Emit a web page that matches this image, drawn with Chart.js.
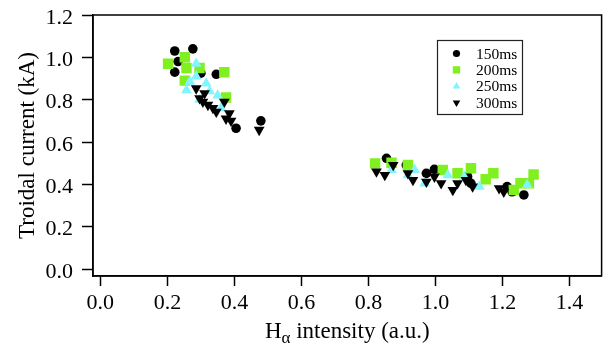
<!DOCTYPE html>
<html><head><meta charset="utf-8">
<script src="https://cdn.jsdelivr.net/npm/chart.js@4/dist/chart.umd.min.js"></script>
<style>html,body{margin:0;padding:0;background:#fff}#wrap{width:609px;height:351px;position:relative}</style>
</head><body><div id="wrap"><canvas id="c" width="609" height="351"></canvas></div>
<script>
// ---- data ----
const seriesNames = ['150ms', '200ms', '250ms', '300ms'];
const x150 = [0.222, 0.276, 0.232, 0.222, 0.346, 0.300, 0.479, 0.405,
  0.854, 0.913, 0.973, 0.997, 1.096, 1.106, 1.214, 1.229, 1.264];
const y150 = [1.03, 1.04, 0.98, 0.93, 0.92, 0.925, 0.70, 0.665,
  0.523, 0.491, 0.452, 0.471, 0.436, 0.405, 0.389, 0.365, 0.350];
const x200 = [0.202, 0.252, 0.257, 0.252, 0.296, 0.370, 0.375,
  0.820, 0.869, 0.918, 1.022, 1.066, 1.106, 1.150, 1.173, 1.234, 1.254, 1.279, 1.293];
const y200 = [0.97, 1.00, 0.95, 0.89, 0.95, 0.93, 0.81,
  0.499, 0.502, 0.491, 0.468, 0.452, 0.476, 0.424, 0.452, 0.373, 0.405, 0.405, 0.447];
const x250 = [0.286, 0.257, 0.286, 0.267, 0.316, 0.350, 0.296, 0.360, 0.326,
  0.869, 0.918, 0.938, 0.968, 1.037, 1.086, 1.131, 1.274];
const y250 = [0.97, 0.845, 0.91, 0.885, 0.877, 0.82, 0.80, 0.76, 0.84,
  0.468, 0.444, 0.468, 0.405, 0.444, 0.436, 0.389, 0.397];
const x300 = [0.286, 0.311, 0.296, 0.306, 0.321, 0.336, 0.346, 0.370, 0.385, 0.375, 0.390, 0.474,
  0.824, 0.849, 0.874, 0.918, 0.933, 0.973, 0.997, 1.017, 1.052, 1.066, 1.091, 1.111, 1.190, 1.204];
const y300 = [0.853, 0.83, 0.806, 0.79, 0.775, 0.76, 0.743, 0.79, 0.735, 0.71, 0.70, 0.657,
  0.46, 0.444, 0.491, 0.452, 0.42, 0.412, 0.436, 0.405, 0.373, 0.405, 0.42, 0.389, 0.381, 0.365];
const xTickValues = [0.0, 0.2, 0.4, 0.6, 0.8, 1.0, 1.2, 1.4];
const yTickValues = [0.0, 0.2, 0.4, 0.6, 0.8, 1.0, 1.2];
const xTitleMain = 'H', xTitleSub = 'α', xTitleRest = ' intensity (a.u.)';
const yTitleText = 'Troidal current (kA)';

// ---- styles ----
const SERIF = '"Liberation Serif", "DejaVu Serif", serif';
const styles = [
  {color: '#000000', pointStyle: 'circle', radius: 4.8, rotation: 0, legR: 3.6},
  {color: '#80f020', pointStyle: 'rect', radius: 7.4, rotation: 0, legR: 5.2},
  {color: '#80f4ff', pointStyle: 'triangle', radius: 6.2, rotation: 0, legR: 4.4},
  {color: '#000000', pointStyle: 'triangle', radius: 6.2, rotation: 180, legR: 4.4}
];
const xs = [x150, x200, x250, x300], ys = [y150, y200, y250, y300];
const zip = (a, b) => a.map((v, i) => ({x: v, y: b[i]}));

const datasets = seriesNames.map((n, i) => ({
  label: n,
  data: zip(xs[i], ys[i]),
  pointStyle: styles[i].pointStyle,
  pointRadius: styles[i].radius,
  pointHoverRadius: styles[i].radius,
  pointRotation: styles[i].rotation,
  backgroundColor: styles[i].color,
  borderColor: styles[i].color,
  borderWidth: 0,
  order: 4 - i
}));

function drawMarker(ctx, style, x, y, r, rot) {
  ctx.beginPath();
  if (style === 'circle') {
    ctx.arc(x, y, r, 0, Math.PI * 2);
  } else if (style === 'rect') {
    const s = r * Math.SQRT1_2;
    ctx.rect(x - s, y - s, 2 * s, 2 * s);
  } else {
    let a = rot * Math.PI / 180;
    for (let k = 0; k < 3; k++) {
      const px = x + Math.sin(a) * r, py = y - Math.cos(a) * r;
      if (k === 0) ctx.moveTo(px, py); else ctx.lineTo(px, py);
      a += 2 * Math.PI / 3;
    }
    ctx.closePath();
  }
  ctx.fill();
}

const framePlugin = {
  id: 'frame',
  afterDraw(chart) {
    const {ctx, chartArea: a} = chart;
    ctx.save();
    ctx.strokeStyle = '#000';
    ctx.lineWidth = 1.5;
    ctx.strokeRect(a.left, a.top, a.right - a.left, a.bottom - a.top);
    // legend
    const lx = 437.5, ly = 40.5, lw = 85, lh = 74;
    ctx.lineWidth = 1.2;
    ctx.strokeStyle = '#222';
    ctx.strokeRect(lx, ly, lw, lh);
    ctx.font = '15.5px ' + SERIF;
    ctx.textBaseline = 'middle';
    ctx.textAlign = 'left';
    seriesNames.forEach((n, i) => {
      const yy = 53.5 + i * 16.4;
      ctx.fillStyle = styles[i].color;
      drawMarker(ctx, styles[i].pointStyle, 456.5, yy, styles[i].legR, styles[i].rotation);
      ctx.fillStyle = '#000';
      ctx.fillText(n, 476, yy + 1);
    });
    // x title with subscript
    const big = '23px ' + SERIF, small = '17px ' + SERIF;
    ctx.font = big; const w1 = ctx.measureText(xTitleMain).width;
    const w3 = ctx.measureText(xTitleRest).width;
    ctx.font = small; const w2 = ctx.measureText(xTitleSub).width;
    const cx = (a.left + a.right) / 2;
    let x0 = cx - (w1 + w2 + w3) / 2;
    const base = 338;
    ctx.textBaseline = 'alphabetic';
    ctx.fillStyle = '#000';
    ctx.font = big; ctx.fillText(xTitleMain, x0, base);
    ctx.font = small; ctx.fillText(xTitleSub, x0 + w1, base + 5);
    ctx.font = big; ctx.fillText(xTitleRest, x0 + w1 + w2, base);
    ctx.restore();
  }
};

new Chart(document.getElementById('c'), {
  type: 'scatter',
  data: {datasets},
  options: {
    responsive: false,
    animation: false,
    devicePixelRatio: 1,
    layout: {padding: {left: 0, right: 4, top: 15, bottom: 0}},
    plugins: {legend: {display: false}, tooltip: {enabled: false}},
    scales: {
      x: {
        type: 'linear', min: -0.022, max: 1.496,
        afterBuildTicks: s => { s.ticks = xTickValues.map(v => ({value: v})); },
        afterFit: s => { s.height = 75; s.paddingLeft = 0; s.paddingRight = 0; },
        ticks: {
          font: {family: SERIF, size: 22}, color: '#000', padding: 4,
          callback: v => Number(v).toFixed(1)
        },
        grid: {display: true, drawOnChartArea: false, drawTicks: true, tickLength: 10, tickColor: '#000', tickWidth: 1.5},
        border: {display: true, color: '#000', width: 1.5},
        title: {display: false}
      },
      y: {
        type: 'linear', min: -0.033, max: 1.2,
        afterBuildTicks: s => { s.ticks = yTickValues.map(v => ({value: v})); },
        afterFit: s => { s.width = 93; s.paddingTop = 0; s.paddingBottom = 0; },
        ticks: {
          font: {family: SERIF, size: 22}, color: '#000', padding: 9, labelOffset: 3,
          callback: v => Number(v).toFixed(1)
        },
        grid: {display: true, drawOnChartArea: false, drawTicks: true, tickLength: 11, tickColor: '#000', tickWidth: 1.5},
        border: {display: true, color: '#000', width: 1.5},
        title: {display: true, text: yTitleText, color: '#000', font: {family: SERIF, size: 23}, padding: {top: 14, bottom: 0}}
      }
    }
  },
  plugins: [framePlugin]
});
</script>
</body></html>
